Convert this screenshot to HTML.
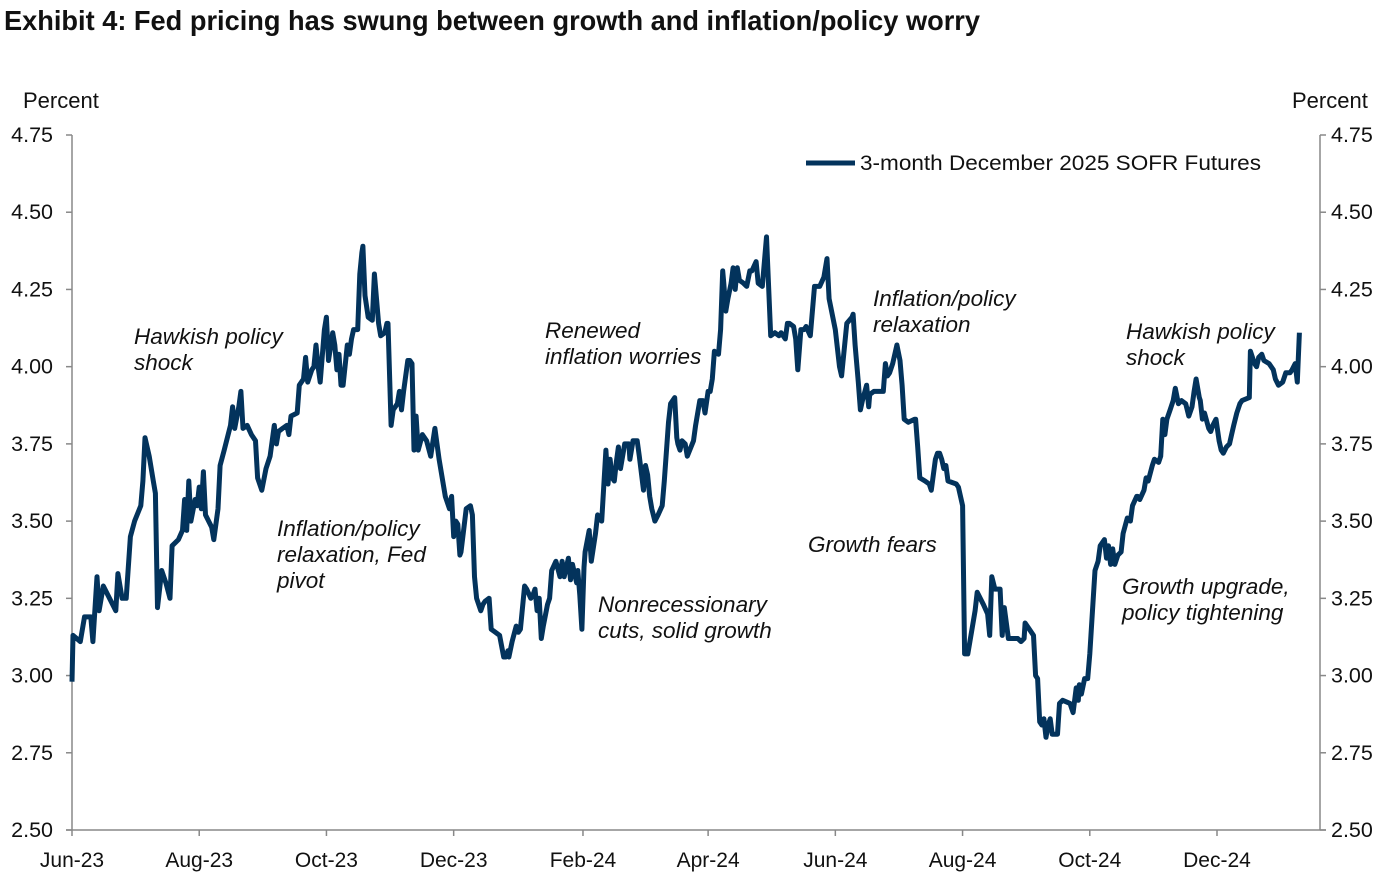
<!DOCTYPE html>
<html><head><meta charset="utf-8"><style>
body{margin:0;background:#fff;width:1398px;height:882px;overflow:hidden;font-family:"Liberation Sans",sans-serif}
svg text{font-family:"Liberation Sans",sans-serif}
</style></head><body>
<svg id="chart" width="1398" height="882" xmlns="http://www.w3.org/2000/svg">
<text x="4" y="30" font-weight="bold" font-size="28" fill="#111" style="font-family:'Liberation Sans Narrow','Liberation Sans',sans-serif" textLength="976" lengthAdjust="spacingAndGlyphs">Exhibit 4: Fed pricing has swung between growth and inflation/policy worry</text>
<text x="23" y="108" font-size="22" fill="#111">Percent</text>
<text x="1292" y="108" font-size="22" fill="#111">Percent</text>
<g id="axes"></g>
<path id="series" fill="none" stroke="#03335c" stroke-width="5" stroke-linejoin="round"/>
<g>
<line x1="806" y1="163" x2="855" y2="163" stroke="#03335c" stroke-width="5"/>
<text x="860" y="170" font-size="21.5" fill="#111" textLength="401" lengthAdjust="spacingAndGlyphs">3-month December 2025 SOFR Futures</text>
</g>
<g font-size="22.5" font-style="italic" fill="#111">
<text x="134" y="344">Hawkish policy<tspan x="134" dy="26">shock</tspan></text>
<text x="277" y="536">Inflation/policy<tspan x="277" dy="26">relaxation, Fed</tspan><tspan x="277" dy="26">pivot</tspan></text>
<text x="545" y="338">Renewed<tspan x="545" dy="26">inflation worries</tspan></text>
<text x="598" y="612">Nonrecessionary<tspan x="598" dy="26">cuts, solid growth</tspan></text>
<text x="873" y="306">Inflation/policy<tspan x="873" dy="26">relaxation</tspan></text>
<text x="808" y="552">Growth fears</text>
<text x="1126" y="339">Hawkish policy<tspan x="1126" dy="26">shock</tspan></text>
<text x="1122" y="594">Growth upgrade,<tspan x="1122" dy="26">policy tightening</tspan></text>
</g>
</svg>
<script>
const yTicks=[2.50,2.75,3.00,3.25,3.50,3.75,4.00,4.25,4.50,4.75];
const xTickLabels=["Jun-23","Aug-23","Oct-23","Dec-23","Feb-24","Apr-24","Jun-24","Aug-24","Oct-24","Dec-24"];
const xTickDays=[0,61,122,183,245,305,366,427,488,549];
const days=[0,0.5,4,6,9,10,12,13,15,18,21,22,24,26,28,30,33,34,35,37,39,40,41,43,45,47,48,51,53,54,55,56,57,59,60,61,62,63,64,67,68,70,71,73,76,77,78,80,81,82,84,86,88,89,91,93,95,97,98,99,101,103,104,105,108,109,111,112,113,115,116,117,118,119,121,122,123,125,126,127,128,129,130,132,133,134,135,137,138,139,139.5,140.5,142,144,145,147,148,150,151,151.5,153,154,156,157,158,159,161,162,163,164,165,166,168,170,172,174,176,179,181,182,183,184,185,186,186.5,189,191,192,193,194,196,197,198,200,201,203,205,207,208,209,209.5,211,213,214,215,217,218,220,221,222,223,224,225,226,228,229,230,232,234,235,236,238,239,240,242,242.5,243.5,244.5,245.5,246,248,249,251,252,254,256,257,258,259,260,261,262,263,265,267,267.5,269,271,272,274,275,276,277,278,279.5,281,283,284,286,287,289,290,290.5,291.5,292.5,294,295,298,299,301,302.5,303.5,305,306,307,308,310,311,312,312.5,313.5,314.5,316,317,318,319,320,322,323.5,325,326,328,329,331,333,335,337,339,340,342,343,344,346,347,348,349.5,351,352,354,356,358.5,360.5,362,363,366,368,369,371.5,374,374.5,375.5,377,378,379,381,382,382.5,384.5,387,389,390,391,392,393.5,395.5,397,398,399,401,404,404.5,405.5,406.5,409,411,412,414,415,416,417,418,419,420,424,425,427,427.5,428,429.5,430.5,433,434,437,439,440,441,442.5,445,446,447,449,450,453.5,455,456.5,457,459,461,462,463,464,465,466,467,468,469,470,472.5,473.5,475,478.5,480,481.5,482.5,483,484,485.5,487,488,489,490.5,492,493,495,496,497,498,499,500,501.5,503,504,506,507.5,508.5,510.5,511,512,514,515,516,518,519,521,522,523,524,525,526.5,528,529,530.5,532,534,535.5,537,538,539,540.5,541,542,543,545,546,547,548.5,550,551,552,553.5,555,556,557,558.5,560,561,564.5,565,567,568,569,570.5,571.5,574,576,577,578.5,580.5,582,584,585,586.5,587.5,588.5];
const values=[2.98,3.13,3.11,3.19,3.19,3.11,3.32,3.21,3.29,3.25,3.21,3.33,3.25,3.25,3.45,3.50,3.55,3.63,3.77,3.71,3.63,3.59,3.22,3.34,3.30,3.25,3.42,3.44,3.47,3.57,3.47,3.63,3.50,3.57,3.55,3.61,3.54,3.66,3.52,3.48,3.44,3.54,3.68,3.73,3.81,3.87,3.80,3.87,3.92,3.80,3.81,3.78,3.76,3.64,3.60,3.67,3.71,3.81,3.75,3.79,3.80,3.81,3.78,3.84,3.85,3.94,3.96,4.03,3.95,3.99,4.00,4.07,4.00,3.95,4.12,4.16,4.02,4.11,4.07,3.99,4.04,3.94,3.94,4.07,4.04,4.09,4.12,4.12,4.30,4.37,4.39,4.23,4.16,4.15,4.30,4.14,4.10,4.11,4.14,4.14,3.81,3.86,3.88,3.92,3.86,3.92,4.02,4.02,4.01,3.73,3.84,3.73,3.78,3.76,3.71,3.80,3.70,3.58,3.54,3.58,3.45,3.50,3.49,3.39,3.40,3.54,3.55,3.52,3.32,3.25,3.21,3.23,3.24,3.25,3.15,3.14,3.13,3.06,3.06,3.08,3.06,3.11,3.16,3.14,3.15,3.29,3.28,3.25,3.26,3.28,3.21,3.25,3.12,3.16,3.23,3.25,3.34,3.37,3.32,3.37,3.32,3.38,3.31,3.36,3.30,3.34,3.26,3.15,3.35,3.40,3.47,3.37,3.46,3.52,3.50,3.73,3.62,3.70,3.64,3.63,3.69,3.74,3.67,3.75,3.75,3.70,3.76,3.76,3.71,3.60,3.68,3.65,3.58,3.54,3.50,3.52,3.55,3.63,3.82,3.88,3.90,3.77,3.75,3.73,3.76,3.75,3.71,3.76,3.81,3.89,3.89,3.85,3.92,3.92,3.96,4.05,4.04,4.12,4.31,4.27,4.18,4.22,4.27,4.32,4.25,4.32,4.28,4.27,4.26,4.31,4.31,4.34,4.27,4.26,4.42,4.10,4.11,4.10,4.11,4.09,4.14,4.14,4.13,4.09,3.99,4.12,4.12,4.13,4.10,4.26,4.26,4.29,4.35,4.22,4.12,4.00,3.97,4.14,4.16,4.17,4.07,3.95,3.86,3.89,3.94,3.87,3.91,3.92,3.92,3.92,4.01,3.97,3.98,4.01,4.07,4.02,3.94,3.83,3.82,3.83,3.83,3.74,3.64,3.63,3.62,3.60,3.70,3.72,3.72,3.70,3.67,3.68,3.63,3.62,3.61,3.55,3.31,3.07,3.07,3.11,3.21,3.27,3.23,3.20,3.13,3.32,3.28,3.28,3.13,3.22,3.12,3.12,3.12,3.11,3.12,3.17,3.15,3.13,3.00,2.99,2.85,2.84,2.86,2.80,2.84,2.86,2.81,2.81,2.91,2.92,2.91,2.88,2.96,2.92,2.97,2.94,2.99,2.99,3.07,3.18,3.34,3.37,3.42,3.44,3.38,3.42,3.36,3.41,3.36,3.39,3.40,3.46,3.51,3.50,3.55,3.58,3.58,3.57,3.60,3.64,3.63,3.68,3.70,3.69,3.71,3.83,3.78,3.83,3.86,3.89,3.93,3.88,3.89,3.88,3.84,3.87,3.92,3.96,3.90,3.89,3.83,3.85,3.80,3.79,3.81,3.83,3.76,3.73,3.72,3.74,3.75,3.78,3.81,3.85,3.88,3.89,3.90,4.05,4.01,4.00,4.03,4.04,4.02,4.01,3.99,3.96,3.94,3.95,3.98,3.98,3.99,4.01,3.95,4.11];
const NS="http://www.w3.org/2000/svg";
const L=72,R=1320,T=135,B=830,yMin=2.5,yMax=4.75;
function xs(d){return L+d*(1145/549);}
function ys(v){return B-(v-yMin)/(yMax-yMin)*(B-T);}
const ax=document.getElementById('axes');
function mk(tag,attrs,parent){const e=document.createElementNS(NS,tag);for(const k in attrs)e.setAttribute(k,attrs[k]);(parent||ax).appendChild(e);return e;}
let e;
e=mk('line',{x1:L,y1:T,x2:L,y2:B,stroke:'#888','stroke-width':1.5});


e=mk('line',{x1:R,y1:T,x2:R,y2:B,stroke:'#888','stroke-width':1.5});


e=mk('line',{x1:L-6,y1:B,x2:R+6,y2:B,stroke:'#888','stroke-width':1.5});


yTicks.forEach(v=>{const y=ys(v);
 mk('line',{x1:L-6,y1:y,x2:L,y2:y,stroke:'#888','stroke-width':1.5});
 mk('line',{x1:R,y1:y,x2:R+6,y2:y,stroke:'#888','stroke-width':1.5});
 e=mk('text',{x:53,y:y+7,'text-anchor':'end','font-size':21.5,fill:'#111'});e.textContent=v.toFixed(2);
 
 
 e=mk('text',{x:1331,y:y+7,'font-size':21.5,fill:'#111'});e.textContent=v.toFixed(2);
 
 
});
xTickDays.forEach((d,i)=>{const x=xs(d);
 mk('line',{x1:x,y1:B,x2:x,y2:B+6,stroke:'#888','stroke-width':1.5});
 e=mk('text',{x:x,y:867,'text-anchor':'middle','font-size':21,fill:'#111'});e.textContent=xTickLabels[i];
 
 
});
document.getElementById('series').setAttribute('d',days.map((d,i)=>(i?'L':'M')+xs(d).toFixed(1)+','+ys(values[i]).toFixed(1)).join(''));
</script>
</body></html>
